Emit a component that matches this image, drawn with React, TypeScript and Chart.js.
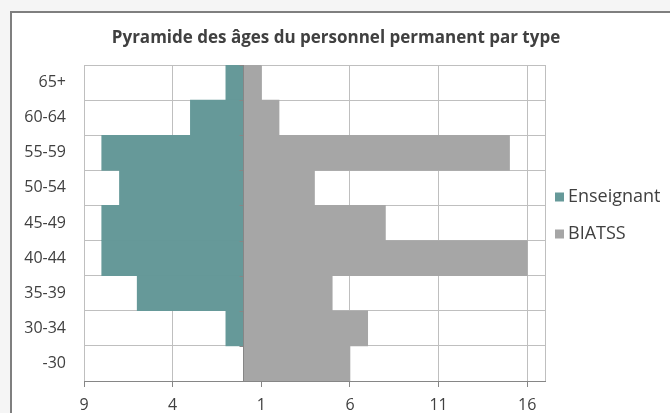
import React, { useEffect, useRef } from "react";
import { Chart, registerables } from "chart.js";

Chart.register(...registerables);

const ageGroups = ["65+", "60-64", "55-59", "50-54", "45-49", "40-44", "35-39", "30-34", "-30"];
const enseignant = [1, 3, 8, 7, 8, 8, 6, 1, 0];
const biatss = [1, 2, 15, 4, 8, 16, 5, 7, 6];
const xTickValues = [-9, -4, 1, 6, 11, 16];
const xMin = -9;
const xMax = 17;
const titleText = "Pyramide des âges du personnel permanent par type";

const FONT = "'Open Sans', 'Noto Sans', sans-serif";
const TEXT = "#404040";
const GRID = "#bfbfbf";
const AXIS = "#868686";

const zeroAxisPlugin = {
  id: "zeroAxis",
  afterDatasetsDraw(chart: any) {
    const { ctx, chartArea, scales } = chart;
    const x0 = Math.round(scales.x.getPixelForValue(0)) - 0.5;
    ctx.save();
    ctx.strokeStyle = AXIS;
    ctx.lineWidth = 1;
    ctx.beginPath();
    ctx.moveTo(x0, chartArea.top);
    ctx.lineTo(x0, chartArea.bottom);
    const n = chart.data.labels.length;
    for (let i = 0; i <= n; i++) {
      const y = Math.round(chartArea.top + ((chartArea.bottom - chartArea.top) * i) / n) + 0.5;
      ctx.moveTo(x0 - 4, y);
      ctx.lineTo(x0, y);
    }
    ctx.stroke();
    ctx.restore();
  },
};

const titlePlugin = {
  id: "centerTitle",
  afterDraw(chart: any) {
    const { ctx } = chart;
    ctx.save();
    ctx.font = `bold 17px ${FONT}`;
    ctx.fillStyle = TEXT;
    ctx.textAlign = "center";
    ctx.textBaseline = "middle";
    ctx.fillText(titleText, chart.width / 2 + 1, 38);
    ctx.restore();
  },
};

const legendPlugin = {
  id: "customLegend",
  afterDraw(chart: any) {
    const { ctx, chartArea } = chart;
    const x = chartArea.right + 10;
    const yStart = 197;
    const step = 37;
    ctx.save();
    ctx.font = `18px ${FONT}`;
    ctx.textBaseline = "middle";
    ctx.textAlign = "left";
    chart.data.datasets.forEach((ds: any, i: number) => {
      const cy = yStart + i * step;
      ctx.fillStyle = ds.backgroundColor;
      ctx.fillRect(x, cy - 4.5, 9, 9);
      ctx.fillStyle = TEXT;
      ctx.fillText(ds.label, x + 13, cy);
    });
    ctx.restore();
  },
};

export default function App() {
  const ref = useRef<HTMLCanvasElement | null>(null);

  useEffect(() => {
    if (!ref.current) return;
    const chart = new Chart(ref.current, {
      type: "bar",
      data: {
        labels: ageGroups,
        datasets: [
          {
            label: "Enseignant",
            data: enseignant.map((v) => -v),
            backgroundColor: "#669999",
            borderWidth: 0,
            barPercentage: 1,
            categoryPercentage: 1,
          },
          {
            label: "BIATSS",
            data: biatss,
            backgroundColor: "#a6a6a6",
            borderWidth: 0,
            barPercentage: 1,
            categoryPercentage: 1,
          },
        ],
      },
      options: {
        indexAxis: "y",
        responsive: false,
        animation: false,
        devicePixelRatio: 1,
        layout: { padding: { left: 0, right: 125, top: 65, bottom: 0 } },
        plugins: {
          legend: { display: false },
          tooltip: { enabled: false },
          title: { display: false },
        },
        scales: {
          x: {
            type: "linear",
            stacked: true,
            min: xMin,
            max: xMax,
            afterBuildTicks: (scale: any) => {
              scale.ticks = [...xTickValues, xMax].map((v) => ({ value: v }));
            },
            afterFit: (scale: any) => {
              scale.height = 32;
            },
            ticks: {
              color: TEXT,
              font: { family: FONT, size: 16 },
              padding: 9,
              maxRotation: 0,
              autoSkip: false,
              callback: (v: any) => (v === xMax ? "" : String(Math.abs(Number(v)))),
            },
            grid: {
              color: GRID,
              lineWidth: 1,
              drawTicks: true,
              tickLength: 6,
              tickColor: (c: any) => (c.tick && c.tick.value === xMax ? "rgba(0,0,0,0)" : AXIS),
            },
            border: { display: true, color: AXIS, width: 1 },
          },
          y: {
            type: "category",
            stacked: true,
            afterFit: (scale: any) => {
              scale.width = 84;
            },
            ticks: {
              color: TEXT,
              font: { family: FONT, size: 16 },
              padding: 18,
              autoSkip: false,
            },
            grid: {
              color: GRID,
              lineWidth: 1,
              drawTicks: false,
              offset: true,
            },
            border: { display: false },
          },
        },
      },
      plugins: [zeroAxisPlugin, titlePlugin, legendPlugin],
    });
    return () => chart.destroy();
  }, []);

  return (
    <div
      style={{
        position: "fixed",
        left: 0,
        top: 0,
        width: 670,
        height: 413,
        background: "#f5f5f5",
        overflow: "hidden",
      }}
    >
      <div
        style={{
          position: "absolute",
          left: 10,
          top: 11,
          width: 670,
          height: 413,
          borderLeft: "2px solid #7f7f7f",
          borderTop: "2px solid #7f7f7f",
          background: "#ffffff",
        }}
      />
      <canvas
        ref={ref}
        width={670}
        height={413}
        style={{ position: "absolute", left: 0, top: 0, width: 670, height: 413 }}
      />
    </div>
  );
}
